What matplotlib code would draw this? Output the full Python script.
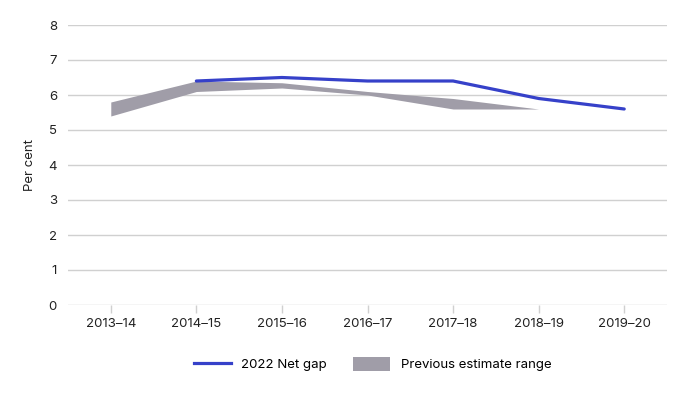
import matplotlib
matplotlib.use("Agg")
import matplotlib.pyplot as plt
from matplotlib.patches import Patch
from matplotlib.lines import Line2D
import numpy as np

plt.rcParams['font.family'] = ['Inter', 'DejaVu Sans']

years = ["2013–14", "2014–15", "2015–16", "2016–17", "2017–18", "2018–19", "2019–20"]
net_gap_years = ["2014–15", "2015–16", "2016–17", "2017–18", "2018–19", "2019–20"]
net_gap = [6.4, 6.5, 6.4, 6.4, 5.9, 5.6]
prev_years = ["2013–14", "2014–15", "2015–16", "2016–17", "2017–18", "2018–19"]
prev_low = [5.4, 6.1, 6.2, 6.0, 5.6, 5.6]
prev_high = [5.8, 6.4, 6.35, 6.1, 5.9, 5.6]

blue = "#3641C9"
grey = "#A09DA8"
gridc = "#D0D0D0"

fig = plt.figure(figsize=(6.89, 3.93), dpi=100)
ax = fig.add_axes([68/689, 1-305/393, (667-68)/689, (305-25)/393])

xi = {y: i for i, y in enumerate(years)}
px = [xi[y] for y in prev_years]
nx = [xi[y] for y in net_gap_years]

ax.fill_between(px, prev_low, prev_high, color=grey, linewidth=0, zorder=2)
ax.plot(nx, net_gap, color=blue, linewidth=2.3, zorder=3, solid_capstyle='round')

ax.set_xlim(-0.5, len(years) - 0.5)
ax.set_ylim(0, 8)
ax.set_yticks(range(0, 9))
ax.set_xticks(range(len(years)))
ax.set_xticklabels(years)
ax.grid(axis='y', color=gridc, linewidth=1, zorder=0)
ax.set_axisbelow(True)
for s in ax.spines.values():
    s.set_visible(False)
ax.tick_params(axis='y', length=0, pad=8, labelsize=9.5, labelcolor='#222222')
ax.tick_params(axis='x', length=6, color=gridc, width=1, pad=3.5, labelsize=9.5, labelcolor='#222222')
ax.set_ylabel("Per cent", fontsize=9.5, color='#222222', labelpad=9)

handles = [Line2D([0], [0], color=blue, linewidth=2.3),
           Patch(facecolor=grey, edgecolor='none')]
fig.legend(handles, ["2022 Net gap", "Previous estimate range"], loc='center',
           bbox_to_anchor=(372.5/689, 1-364/393), ncol=2, frameon=False, fontsize=9.5,
           handlelength=2.8, handleheight=1.3, columnspacing=2.0, handletextpad=0.8)

fig.savefig("out.png", dpi=100)
